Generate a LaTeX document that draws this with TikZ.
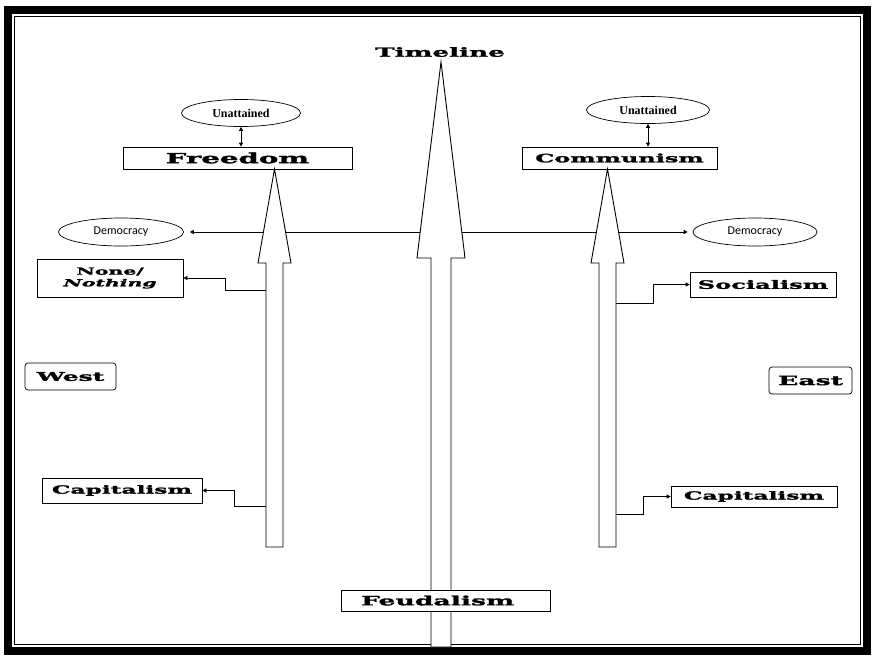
\documentclass[tikz,border=0pt]{standalone}
\usepackage{fontspec}
\setmainfont{Liberation Serif}
\newfontfamily\widefont[FakeStretch=2.1, FakeBold=2]{DejaVu Serif}
\newfontfamily\calfont{Carlito}
\usetikzlibrary{shapes.geometric, arrows.meta, positioning}
\newcommand\wsize[1]{\widefont\bfseries\fontsize{#1}{#1}\selectfont}
\tikzset{>={Triangle[length=4pt,width=4pt]}, % small filled heads
	x=1pt, y=-1pt,
	label box/.style={draw, fill=white, line width=0.7pt, inner sep=0pt, align=center}, % the square boxes
	side box/.style={label box, rounded corners=3pt}, % West and East
	ideal/.style={draw, ellipse, line width=0.7pt, inner sep=0pt, font=\bfseries\fontsize{12}{13}\selectfont}, % Unattained
	demo/.style={draw, ellipse, line width=0.7pt, inner sep=0pt, font=\calfont\fontsize{12}{13}\selectfont}, % Democracy
	block arrow/.style={draw, fill=white, line width=0.9pt, line join=miter},
	link/.style={->, line width=0.7pt},
}
\begin{document}
\begin{tikzpicture}
	\useasboundingbox (0,0) rectangle (874,662);
	% frame
	\draw[line width=8pt] (8,10) rectangle (867,651);
	\draw[line width=1.2pt] (14.5,16.5) rectangle (860.5,644.5);

	% the two ends
	\node[ideal, minimum width=119, minimum height=27] (UnattainedW) at (241,113) {Unattained};
	\node[ideal, minimum width=123, minimum height=27] (UnattainedE) at (648,110) {Unattained};
	\node[label box, minimum width=229, minimum height=22, font=\wsize{13.9}] (Freedom) at (237.5,158) {Freedom};
	\node[label box, minimum width=195, minimum height=22, font=\wsize{11.4}] (Communism) at (619.5,158) {Communism};
	\draw[<->, line width=0.7pt] (UnattainedW.south) -- (UnattainedW.south |- Freedom.north);
	\draw[<->, line width=0.7pt] (UnattainedE.south) -- (UnattainedE.south |- Communism.north);

	% Democracy on both sides
	\node[demo, minimum width=125, minimum height=28] (DemocracyW) at (121,232) {Democracy};
	\node[demo, minimum width=124, minimum height=28] (DemocracyE) at (755,232) {Democracy};
	\draw[<->, line width=0.7pt, shorten <=6pt, shorten >=5pt] (DemocracyW) -- (DemocracyE);

	% timeline in the middle
	\node[font=\wsize{12.5}] (Timeline) at (440,52) {Timeline};
	\coordinate (TimeTip) at (441,62);
	\draw[block arrow] (TimeTip) -- (465,258) -- (451,258) -- (451,647) -- (431,647) -- (431,258) -- (417,258) -- cycle;

	% west arrow, up to Freedom
	\coordinate (WestTip) at (274.5,169);
	\draw[block arrow] (WestTip) -- (291,263) -- (283,263) -- (283,547) -- (266,547) -- (266,263) -- (258,263) -- cycle;
	% east arrow, up to Communism
	\coordinate (EastTip) at (607.5,169);
	\draw[block arrow] (EastTip) -- (624,263) -- (616,263) -- (616,547) -- (599,547) -- (599,263) -- (591,263) -- cycle;

	\node[label box, minimum width=209, minimum height=21, font=\wsize{12.7}, text width=209, align=left] (Feudalism) at (445.5,600.5) {\hspace*{20pt}Feudalism};

	%% West side
	\node[side box, minimum width=91, minimum height=27, font=\wsize{11.9}] (West) at (70.5,376.5) {West};
	\node[label box, minimum width=146, minimum height=38, font=\wsize{9.7}] (None) at (110,278) {None/\\[2pt]\itshape Nothing};
	\node[label box, minimum width=160, minimum height=25, font=\wsize{11.1}] (CapitalismW) at (122,490.5) {Capitalism};
	\coordinate (NoneFrom) at (266,290);
	\coordinate (CapWFrom) at (266,506);
	\draw[link] (NoneFrom) -- (225,290) |- (None.east);
	\draw[link] (CapWFrom) -- (234,506) |- (CapitalismW.east);

	%% East side
	\node[side box, minimum width=83, minimum height=27, font=\wsize{12.7}] (East) at (810.5,380.5) {East};
	\node[label box, minimum width=146, minimum height=25, font=\wsize{11.5}] (Socialism) at (763,284.5) {Socialism};
	\node[label box, minimum width=166, minimum height=21, font=\wsize{11.1}] (CapitalismE) at (754,496.5) {Capitalism};
	\coordinate (SocFrom) at (616,303);
	\coordinate (CapEFrom) at (616,514);
	\draw[link] (SocFrom) -- (653,303) |- (Socialism.west);
	\draw[link] (CapEFrom) -- (643,514) |- (CapitalismE.west);
\end{tikzpicture}
\end{document}
